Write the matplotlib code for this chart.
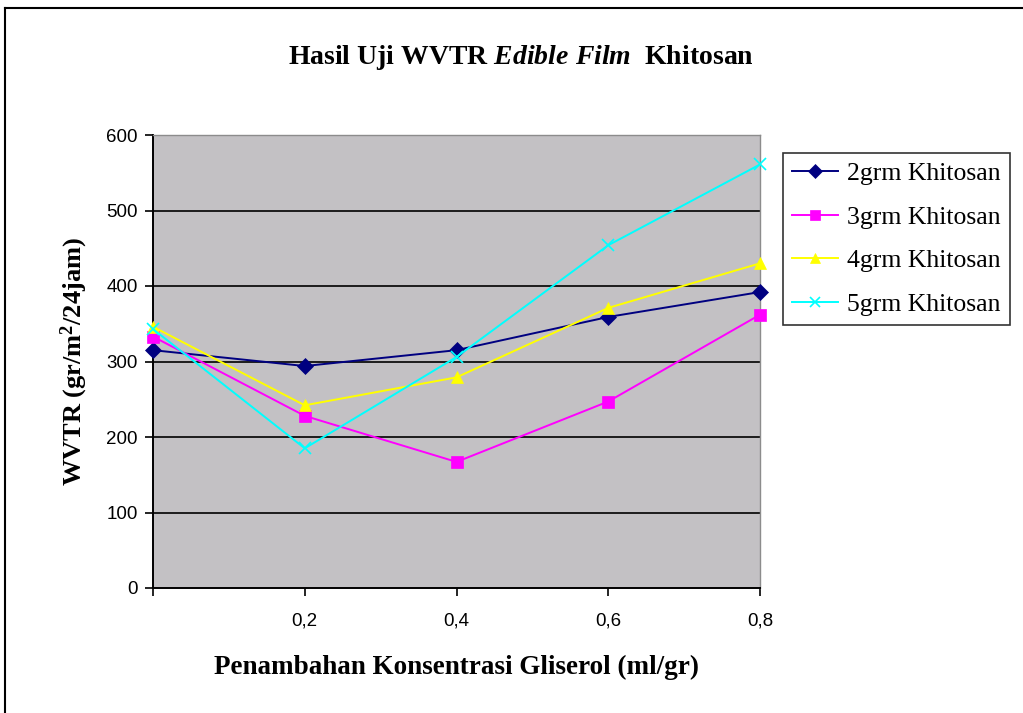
import matplotlib
matplotlib.use("Agg")
import matplotlib.pyplot as plt
from matplotlib.lines import Line2D

plt.rcParams["mathtext.fontset"] = "custom"
plt.rcParams["mathtext.rm"] = "Liberation Serif:bold"
plt.rcParams["mathtext.bf"] = "Liberation Serif:bold"
plt.rcParams["mathtext.it"] = "Liberation Serif:italic:bold"

SERIF = "Liberation Serif"
SANS = ["Liberation Sans Narrow", "Liberation Sans"]

# konsentrasi gliserol (ml/gr)
gliserol = [0.0, 0.2, 0.4, 0.6, 0.8]
tick_labels = ["", "0,2", "0,4", "0,6", "0,8"]

# WVTR (gr/m2/24jam)
wvtr_2g = [315, 294, 315, 359, 392]
wvtr_3g = [333, 228, 167, 247, 362]
wvtr_4g = [346, 242, 279, 371, 430]
wvtr_5g = [343, 185, 306, 454, 561]

series = [
    ("2grm Khitosan", wvtr_2g, "#000080", "D", 8),
    ("3grm Khitosan", wvtr_3g, "#ff00ff", "s", 8),
    ("4grm Khitosan", wvtr_4g, "#ffff00", "^", 9),
    ("5grm Khitosan", wvtr_5g, "#00ffff", "x", 8),
]

W, H = 1023, 713
fig = plt.figure(figsize=(W / 100, H / 100), dpi=100)
fig.patch.set_facecolor("white")

# bingkai luar chart
fig.add_artist(Line2D([5 / W, 5 / W], [0, 1 - 8 / H], color="black", lw=1.5))
fig.add_artist(Line2D([5 / W, 1], [1 - 8 / H, 1 - 8 / H], color="black", lw=1.5))

ax = fig.add_axes([153 / W, 1 - 588 / H, 607 / W, 453 / H])
ax.set_facecolor("#c3c1c4")

for label, vals, color, marker, ms in series:
    ax.plot(gliserol, vals, color=color, lw=1.4, marker=marker, markersize=ms,
            markeredgecolor=color, markeredgewidth=1.2 if marker == "x" else 0.5,
            label=label, clip_on=False, zorder=3)

ax.set_xlim(0, 0.8)
ax.set_ylim(0, 600)
ax.set_yticks(range(0, 601, 100))
ax.set_xticks(gliserol)
ax.set_xticklabels(tick_labels)

for y in range(100, 600, 100):
    ax.axhline(y, color="black", lw=1.2, zorder=1)

for side in ("top", "right"):
    ax.spines[side].set_color("#8c8c8c")
    ax.spines[side].set_linewidth(1)
for side in ("left", "bottom"):
    ax.spines[side].set_color("black")
    ax.spines[side].set_linewidth(1.4)

ax.tick_params(axis="y", direction="out", length=6, width=1.2, pad=5,
               labelsize=13.5)
ax.tick_params(axis="x", direction="out", length=6, width=1.2, pad=12,
               labelsize=13.5)
for t in ax.get_xticklabels() + ax.get_yticklabels():
    t.set_family(SANS)

ax.set_xlabel("Penambahan Konsentrasi Gliserol (ml/gr)", family=SERIF,
              fontweight="bold", fontsize=19.5, labelpad=18)
ax.set_ylabel(r"WVTR (gr/m$^{\mathbf{2}}$/24jam)", family=SERIF,
              fontweight="bold", fontsize=19, labelpad=12)

fig.text(521 / W, 1 - 58 / H, r"Hasil Uji WVTR $\mathit{Edible\ Film}$  Khitosan",
         family=SERIF, fontweight="bold", fontsize=20, ha="center", va="center")

leg = fig.legend(loc="upper left", bbox_to_anchor=(783 / W, 1 - 153 / H),
                 prop={"family": SERIF, "size": 18.5}, frameon=True,
                 fancybox=False, edgecolor="black", handlelength=1.8,
                 handletextpad=0.35, labelspacing=0.8, borderpad=0.35,
                 borderaxespad=0)
leg.get_frame().set_linewidth(1.2)
for h in leg.legend_handles:
    h.set_markersize(7)

fig.savefig("out.png", dpi=100)
